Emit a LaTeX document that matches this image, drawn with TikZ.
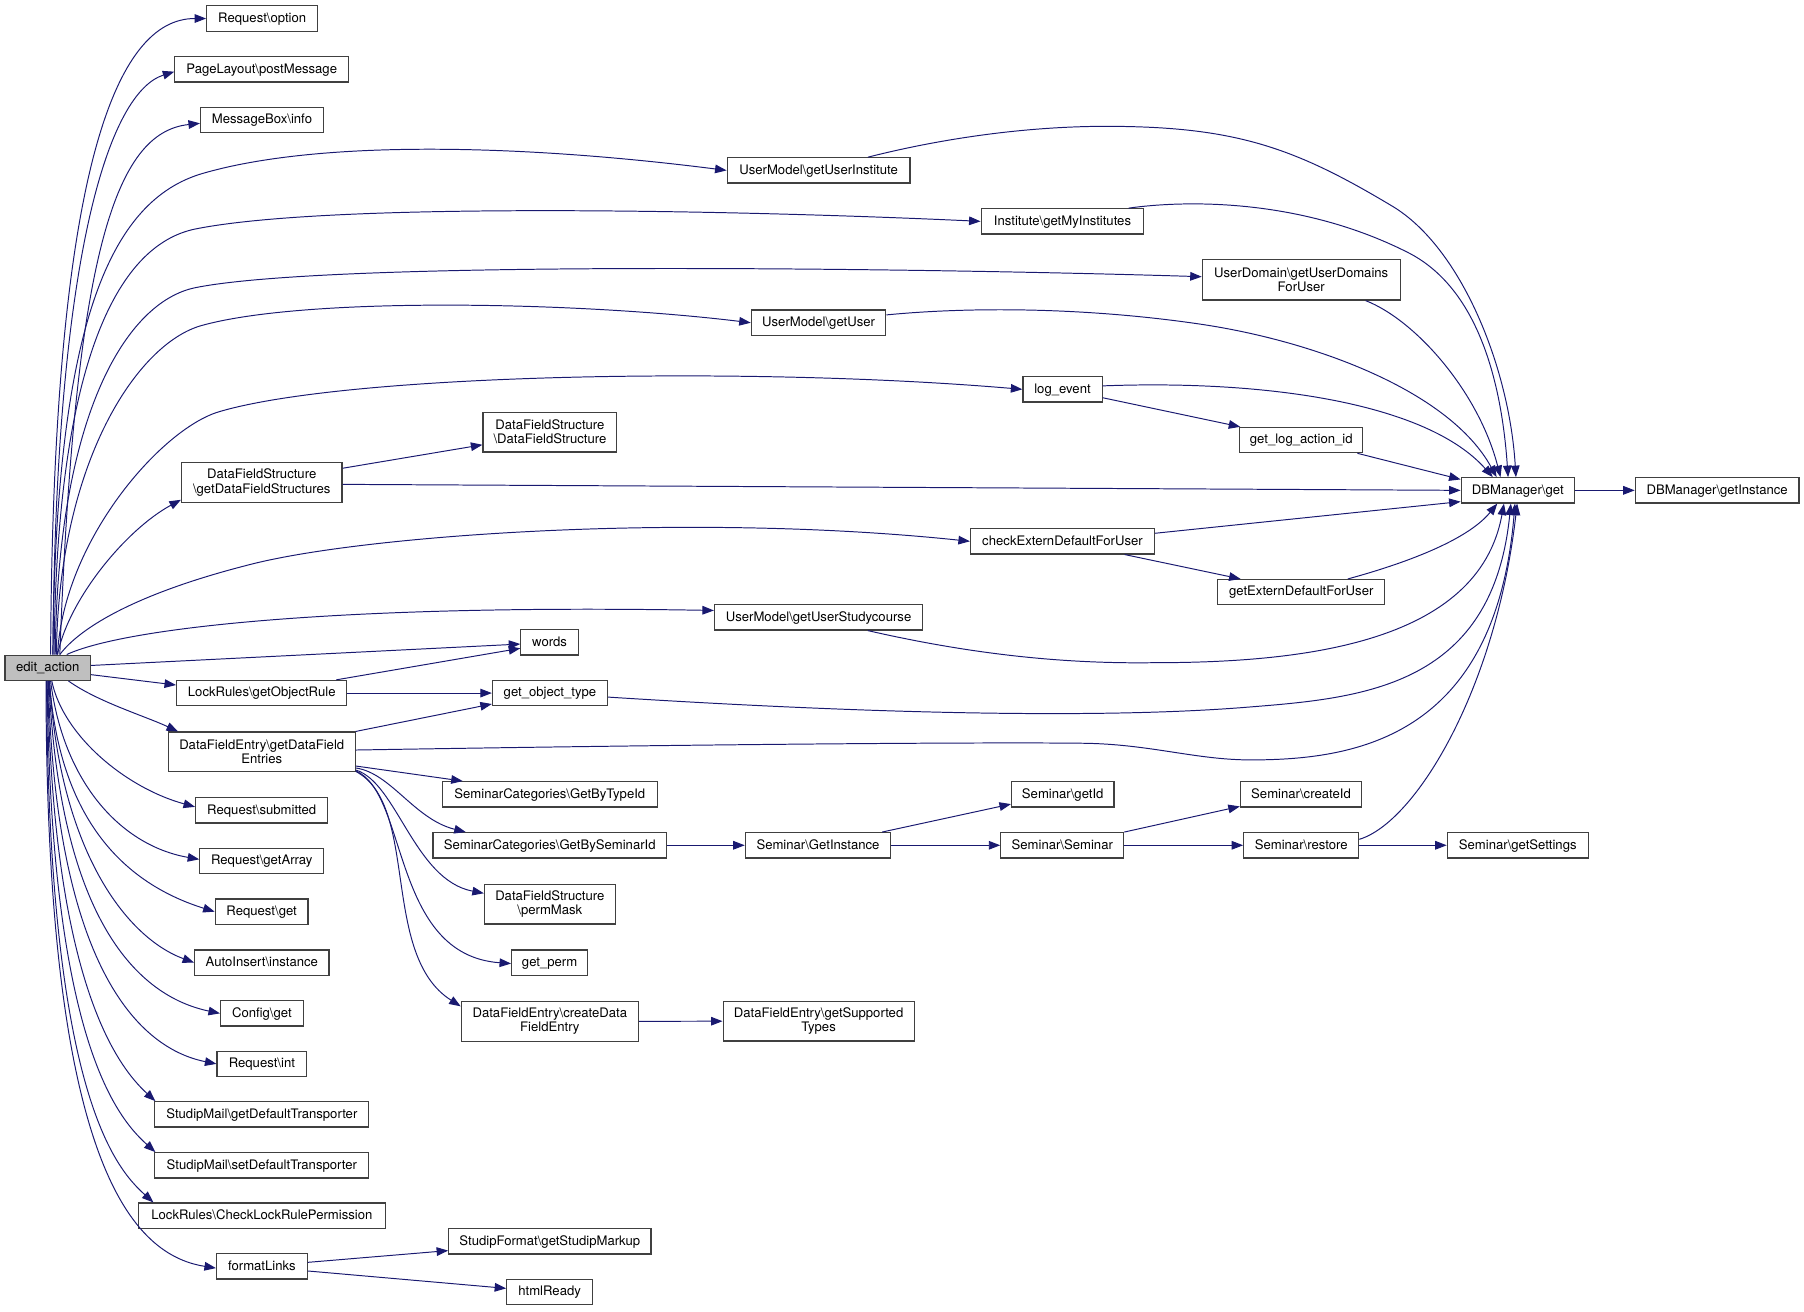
\documentclass[tikz,border=0pt]{standalone}
\usepackage{fontspec}
\setmainfont{TeX Gyre Heros}
\usetikzlibrary{arrows.meta}
\definecolor{dblue}{RGB}{25,25,112}
\definecolor{bord}{RGB}{64,64,64}
\definecolor{efill}{RGB}{191,191,191}
\begin{document}
\begin{tikzpicture}[x=1pt,y=-1pt,
  box/.style={draw=bord, line width=1pt, rectangle, inner sep=0pt, minimum height=22pt, align=center,
    font=\fontsize{11.4pt}{12.2pt}\selectfont, text height=8.2pt, text depth=1.6pt},
  boxtwo/.style={draw=bord, line width=1pt, rectangle, inner sep=0pt, minimum height=34.5pt, align=center,
    font=\fontsize{11.4pt}{12.2pt}\selectfont},
  call/.style={draw=dblue, line width=0.85pt, -{Triangle[length=10pt,width=7.5pt]}}]
\useasboundingbox (0,0) rectangle (1568,1139.5);
% column 0
\node[box, fill=efill, minimum width=74.3pt] (E) at (41.5,580.4) {edit\_action};
% column 1
\node[box, minimum width=96.5pt] (n1) at (227.9,16.1) {Request\textbackslash option};
\node[box, minimum width=151pt] (n2) at (227.5,60.3) {PageLayout\textbackslash postMessage};
\node[box, minimum width=106.8pt] (n3) at (227.7,104.2) {MessageBox\textbackslash info};
\node[boxtwo, minimum width=139.5pt] (n4) at (227.5,419.4) {DataFieldStructure\\\textbackslash getDataFieldStructures};
\node[box, minimum width=148pt] (n5) at (227.5,602.4) {LockRules\textbackslash getObjectRule};
\node[boxtwo, minimum width=162.5pt] (n6) at (227.5,653.5) {DataFieldEntry\textbackslash getDataField\\Entries};
\node[box, minimum width=115pt] (n7) at (227.5,704.3) {Request\textbackslash submitted};
\node[box, minimum width=107.7pt] (n8) at (227.5,748.4) {Request\textbackslash getArray};
\node[box, minimum width=80.7pt] (n9) at (227.4,792.4) {Request\textbackslash get};
\node[box, minimum width=116.8pt] (n10) at (227.6,836.7) {AutoInsert\textbackslash instance};
\node[box, minimum width=71.8pt] (n11) at (227.6,880.8) {Config\textbackslash get};
\node[box, minimum width=78pt] (n12) at (227.6,924.7) {Request\textbackslash int};
\node[box, minimum width=186pt] (n13) at (227.6,968.6) {StudipMail\textbackslash getDefaultTransporter};
\node[box, minimum width=186pt] (n14) at (227.6,1012.9) {StudipMail\textbackslash setDefaultTransporter};
\node[box, minimum width=214.6pt] (n15) at (227.6,1056.6) {LockRules\textbackslash CheckLockRulePermission};
\node[box, minimum width=78.8pt] (n16) at (227.6,1100.7) {formatLinks};
% column 2
\node[boxtwo, minimum width=116.4pt] (m1) at (478,375.6) {DataFieldStructure\\\textbackslash DataFieldStructure};
\node[box, minimum width=50pt] (m2) at (477.7,558.3) {words};
\node[box, minimum width=100pt] (m3) at (478,602.4) {get\_object\_type};
\node[box, minimum width=187pt] (m4) at (477.9,690.4) {SeminarCategories\textbackslash GetByTypeId};
\node[box, minimum width=203pt] (m5) at (477.8,734.7) {SeminarCategories\textbackslash GetBySeminarId};
\node[boxtwo, minimum width=113.7pt] (m6) at (477.9,785.8) {DataFieldStructure\\\textbackslash permMask};
\node[box, minimum width=66pt] (m7) at (477.7,836.7) {get\_perm};
\node[boxtwo, minimum width=154pt] (m8) at (477.9,887.7) {DataFieldEntry\textbackslash createData\\FieldEntry};
\node[box, minimum width=175.8pt] (m9) at (477.9,1079) {StudipFormat\textbackslash getStudipMarkup};
\node[box, minimum width=74.5pt] (m10) at (477.7,1123) {htmlReady};
% column 3
\node[box, minimum width=159pt] (p1) at (711.5,148.1) {UserModel\textbackslash getUserInstitute};
\node[box, minimum width=117pt] (p2) at (711.5,280.5) {UserModel\textbackslash getUser};
\node[box, minimum width=181pt] (p3) at (711.5,536.6) {UserModel\textbackslash getUserStudycourse};
\node[box, minimum width=126.4pt] (p4) at (711,734.7) {Seminar\textbackslash GetInstance};
\node[boxtwo, minimum width=166pt] (p5) at (711.5,887.6) {DataFieldEntry\textbackslash getSupported\\Types};
% column 4
\node[box, minimum width=141.4pt] (q1) at (923.5,192.4) {Institute\textbackslash getMyInstitutes};
\node[box, minimum width=68.8pt] (q2) at (923.5,338.4) {log\_event};
\node[box, minimum width=160pt] (q3) at (923.5,470.5) {checkExternDefaultForUser};
\node[box, minimum width=89pt] (q4) at (923.7,690.4) {Seminar\textbackslash getId};
\node[box, minimum width=106.8pt] (q5) at (923.3,734.7) {Seminar\textbackslash Seminar};
% column 5
\node[boxtwo, minimum width=172pt, minimum height=35pt] (r1) at (1131,243.3) {UserDomain\textbackslash getUserDomains\\ForUser};
\node[box, minimum width=107pt] (r2) at (1131,382.5) {get\_log\_action\_id};
\node[box, minimum width=145.3pt] (r3) at (1131,514.7) {getExternDefaultForUser};
\node[box, minimum width=105.4pt] (r4) at (1130.8,690.4) {Seminar\textbackslash createId};
\node[box, minimum width=100pt] (r5) at (1131,734.7) {Seminar\textbackslash restore};
% columns 6, 7
\node[box, minimum width=98.4pt] (s1) at (1319.2,426.2) {DBManager\textbackslash get};
\node[box, minimum width=122.5pt] (s2) at (1319.2,734.7) {Seminar\textbackslash getSettings};
\node[box, minimum width=142.3pt] (t1) at (1492.5,426.2) {DBManager\textbackslash getInstance};

% edges from edit_action (upwards)
\draw[call] ([xshift=2.5pt]E.north) .. controls (46,150) and (100,16.1) .. (n1.west);
\draw[call] ([xshift=4.5pt]E.north) .. controls (48,220) and (95,80) .. ([yshift=-2pt]n2.west);
\draw[call] ([xshift=10.5pt]E.north) .. controls (65,220) and (100,115) .. ([yshift=-3pt]n3.west);
\draw[call] ([xshift=4.5pt]E.north) .. controls (48,280) and (96.3,173.9) .. (176.3,150.7) .. controls (276.3,121.7) and (450,125) .. (p1.west);
\draw[call] ([xshift=5.5pt]E.north) .. controls (49,320) and (100,213) .. (170,199) .. controls (290,175) and (650,183) .. (q1.west);
\draw[call] ([xshift=6.5pt]E.north) .. controls (50,360) and (110,262) .. (170,250) .. controls (290,226) and (800,233) .. ([yshift=2.8pt]r1.west);
\draw[call] ([xshift=7.5pt]E.north) .. controls (51,400) and (120,298.4) .. (175,283) .. controls (265,257.8) and (500,262) .. (p2.west);
\draw[call] ([xshift=8.5pt]E.north) .. controls (55,470) and (140,373) .. (190,358) .. controls (300,325) and (650,318) .. (q2.west);
\draw[call] ([xshift=8.5pt]E.north) .. controls (60,520) and (110,460) .. ([yshift=-15pt]n4.west);
\draw[call] ([xshift=10.5pt]E.north) .. controls (70,545) and (120,515) .. (220,490) .. controls (320,465) and (600,445) .. (q3.west);
\draw[call] ([xshift=16.5pt]E.north) .. controls (110,545) and (300,525) .. ([yshift=6pt]p3.west);
% edges from edit_action (right)
\draw[call] ([yshift=2pt]E.east) -- ([yshift=-1.5pt]m2.west);
\draw[call] ([yshift=-6pt]E.east) -- ([yshift=7pt]n5.west);
% edges from edit_action (downwards)
\draw[call] ([xshift=18pt]E.south) .. controls (85,610) and (125,622) .. ([xshift=9pt]n6.north west);
\draw[call] ([xshift=3.5pt]E.south) .. controls (55,640) and (110,685) .. ([yshift=3pt]n7.west);
\draw[call] ([xshift=2.5pt]E.south) .. controls (55,680) and (105,735) .. ([yshift=1.5pt]n8.west);
\draw[call] ([xshift=1.5pt]E.south) .. controls (52,720) and (115,770) .. (n9.west);
\draw[call] ([xshift=1.5pt]E.south) .. controls (52,740) and (110,815) .. (n10.west);
\draw[call] ([xshift=1pt]E.south) .. controls (52,800) and (120,866) .. (n11.west);
\draw[call] ([xshift=0.5pt]E.south) .. controls (48,830) and (115,910) .. (n12.west);
\draw[call] (E.south) .. controls (46,850) and (100,925) .. ([xshift=1pt]n13.north west);
\draw[call] ([xshift=-0.5pt]E.south) .. controls (44,900) and (100,970) .. ([xshift=1pt]n14.north west);
\draw[call] ([xshift=-1pt]E.south) .. controls (42,950) and (100,1015) .. ([xshift=13.5pt]n15.north west);
\draw[call] ([xshift=-1.5pt]E.south) .. controls (40,1000) and (110,1090) .. ([yshift=-1.5pt]n16.west);

% other edges
\draw[call] ([yshift=12.4pt]n4.east) -- ([yshift=-11pt]m1.west);
\draw[call] ([yshift=-1.6pt]n4.east) -- (s1.west);
\draw[call] ([xshift=-9.7pt]n5.north east) -- ([yshift=-5.2pt]m2.west);
\draw[call] (n5.east) -- (m3.west);
\draw[call] (n6.north east) -- ([yshift=-9.5pt]m3.west);
\draw[call] ([yshift=1.6pt]n6.east) .. controls (600,647) and (850,645) .. (940,646) .. controls (1000,646.5) and (1040,661) .. (1090,660.5) .. controls (1180,660) and (1300,640) .. ([xshift=-2.4pt]s1.south);
\draw[call] ([yshift=-12.3pt]n6.east) -- ([xshift=18.3pt]m4.north west);
\draw[call] ([yshift=-14pt]n6.east) .. controls (340,672) and (360,712) .. ([xshift=29pt]m5.north west);
\draw[call] ([yshift=-15.8pt]n6.east) .. controls (345,680) and (360,765) .. ([yshift=9.4pt]m6.west);
\draw[call] ([yshift=-16.5pt]n6.east) .. controls (355,690) and (340,830) .. ([yshift=-0.8pt]m7.west);
\draw[call] ([yshift=-17pt]n6.east) .. controls (365,700) and (330,830) .. ([yshift=-4.7pt]m8.north west);
\draw[call] ([yshift=-3.5pt]m3.east) .. controls (750,620) and (950,625) .. (1080,615) .. controls (1180,607) and (1297,600) .. ([xshift=-6pt]s1.south);
\draw[call] ([xshift=42.8pt]p3.south) .. controls (850,570) and (930,577) .. (1002.7,576) .. controls (1130,576) and (1285,560) .. ([xshift=-12pt]s1.south);
\draw[call] ([yshift=7pt]q3.east) -- ([yshift=-9.8pt]s1.west);
\draw[call] ([xshift=54pt]q3.south) -- ([xshift=-52.7pt]r3.north);
\draw[call] ([xshift=40.5pt]r3.north) .. controls (1220,490) and (1275,470) .. ([xshift=-17.8pt]s1.south);
\draw[call] ([yshift=-7.3pt]q2.east) -- ([xshift=1pt]r2.north west);
\draw[call] ([yshift=3pt]q2.east) .. controls (1100,330) and (1240,350) .. ([xshift=-21.7pt]s1.north);
\draw[call] ([xshift=48.8pt]r2.south) -- ([yshift=-2pt]s1.north west);
\draw[call] ([yshift=6.8pt]p2.east) .. controls (850,266) and (950,268) .. (1043,281.7) .. controls (1143,296.4) and (1260,340) .. ([xshift=-18.4pt]s1.north);
\draw[call] ([xshift=56pt]r1.south) .. controls (1230,278) and (1285,340) .. ([xshift=-15pt]s1.north);
\draw[call] ([xshift=-13.7pt]q1.north east) .. controls (1030,174) and (1130,172) .. (1223.8,219.5) .. controls (1283.8,249.8) and (1305,330) .. ([xshift=-8.4pt]s1.north);
\draw[call] ([xshift=42.9pt]p1.north) .. controls (820,120) and (900,108) .. (980,110) .. controls (1080,112) and (1130.3,131.3) .. (1210.3,179.3) .. controls (1270.3,215.3) and (1312,320) .. ([xshift=-1.6pt]s1.north);
\draw[call] ([yshift=5.2pt]r5.east) .. controls (1230,715) and (1300,600) .. ([xshift=-0.5pt]s1.south);
\draw[call] (r5.east) -- (s2.west);
\draw[call] (q5.east) -- (r5.west);
\draw[call] (q5.north east) -- ([yshift=1pt]r4.south west);
\draw[call] ([xshift=-8pt]p4.north east) -- ([yshift=3pt]q4.south west);
\draw[call] (p4.east) -- (q5.west);
\draw[call] (m5.east) -- (p4.west);
\draw[call] (m8.east) -- (p5.west);
\draw[call] ([yshift=3.5pt]n16.east) -- ([yshift=-8pt]m9.west);
\draw[call] ([yshift=-4pt]n16.east) -- ([yshift=3.2pt]m10.west);
\draw[call] (s1.east) -- (t1.west);
\end{tikzpicture}
\end{document}
